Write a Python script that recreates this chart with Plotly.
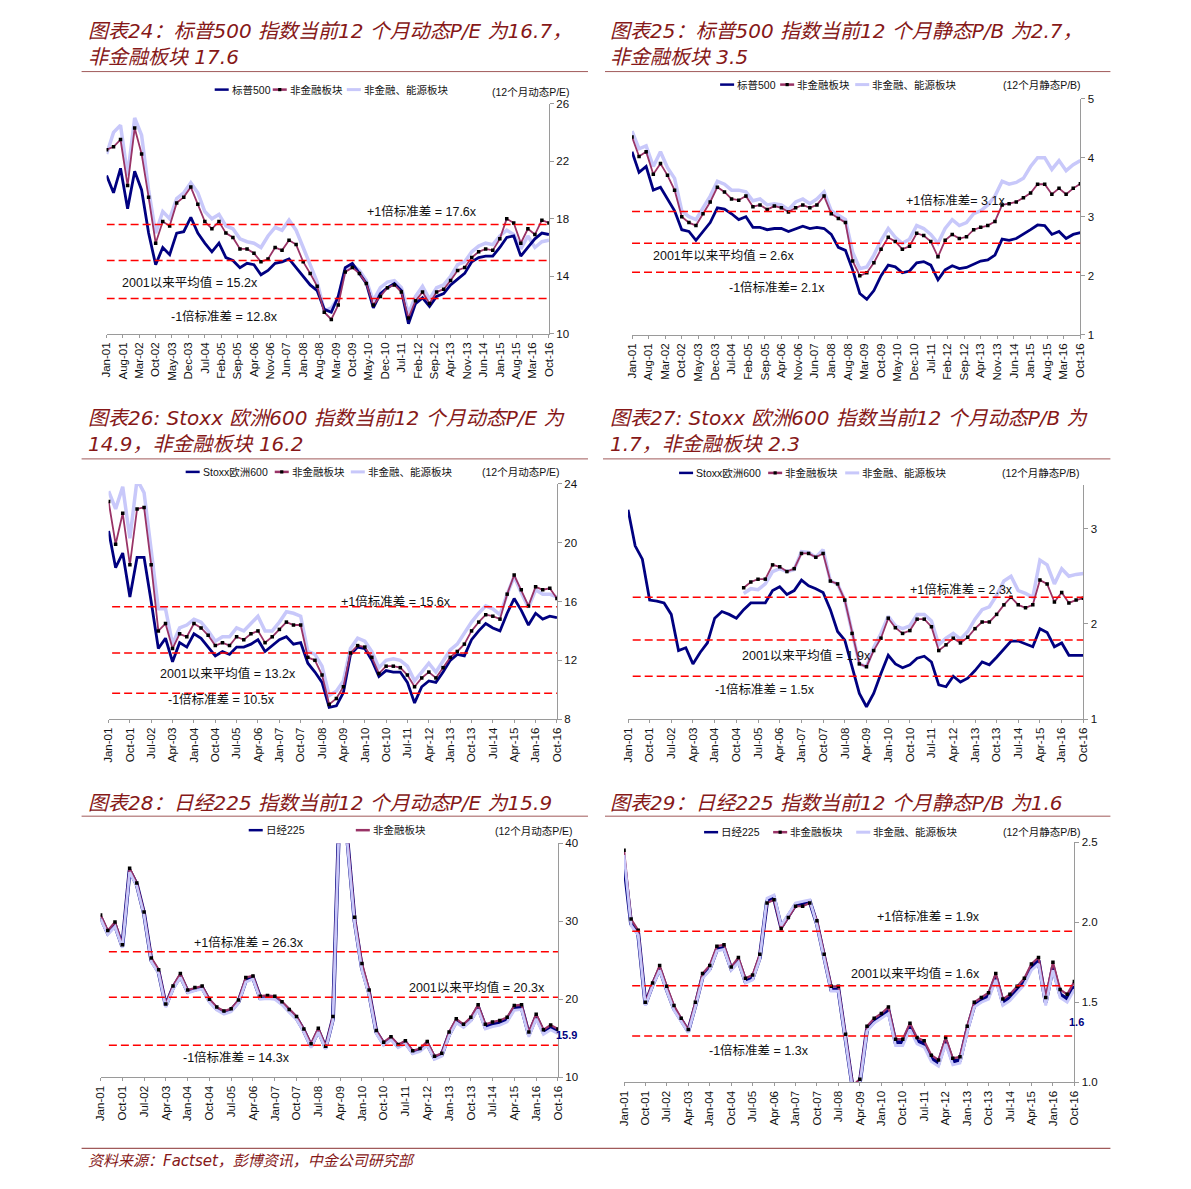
import pandas as pd
import plotly.graph_objects as go

# page is 1191x1189; the html body has an 8px margin, so the figure is sized to fit inside it.
# The captured page comes out scaled by ~0.989 about its centre; positions are pre-compensated.
OFF = 8
W, H = 1175, 1173
S = 0.989
def px(x): return (595.5 + (x - 595.5) / S - OFF) / W
def py(y): return 1 - (594.5 + (y - 594.5) / S - OFF) / H

START, END = "2001-01-01", "2016-10-01"
dates = pd.date_range(START, periods=64, freq="3MS")

# ---------------- data (quarterly readings) ----------------
# 图表24 S&P500 12m forward P/E
N1 = [21.0,19.8,21.5,18.7,21.3,20.0,17.0,14.8,16.0,15.5,
      17.0,17.1,18.1,17.0,16.3,15.7,16.3,15.3,15.1,14.6,
      14.9,14.8,14.1,14.4,14.9,15.0,15.2,14.6,14.0,13.4,
      13.0,11.7,11.5,12.6,14.6,14.9,14.2,13.5,11.8,12.8,
      13.2,13.5,13.0,10.7,12.1,12.5,11.9,12.6,12.8,13.4,
      13.8,14.2,15.0,15.3,15.4,15.4,16.0,16.7,16.8,15.4,
      16.0,16.6,17.0,16.9]
M1 = [22.8,23.0,23.5,20.3,24.3,22.5,19.5,16.3,17.8,17.5,
      19.1,19.5,20.2,19.0,17.8,17.3,17.8,17.0,16.7,15.9,
      15.9,15.6,15.0,15.2,16.0,15.8,16.5,16.2,15.0,14.2,
      13.3,11.5,11.0,12.0,14.3,14.6,14.2,13.5,12.0,12.6,
      13.2,13.4,12.9,11.1,12.3,12.9,12.1,12.9,13.1,13.7,
      14.4,14.6,15.3,15.7,15.9,15.8,16.6,18.0,17.7,16.3,
      17.3,16.9,17.9,17.7]
L1 = [22.5,24.0,24.5,21.0,25.0,23.8,20.0,17.0,18.5,18.0,
      19.4,19.8,20.5,19.8,18.5,18.0,18.3,17.5,17.3,16.6,
      16.4,16.3,16.0,16.8,17.4,17.2,17.9,17.2,16.0,14.8,
      13.6,11.6,11.8,12.5,14.4,14.8,14.4,13.7,12.3,13.2,
      13.6,13.7,13.2,11.4,12.6,13.3,12.4,13.2,13.4,14.0,
      14.8,15.0,15.7,16.1,16.3,16.2,16.8,17.2,16.9,15.9,
      16.8,16.0,16.4,16.5]
LV1 = [17.6, 15.1, 12.45]

# 图表25 S&P500 trailing P/B
N2 = [4.1,3.75,3.85,3.45,3.5,3.3,3.1,2.78,2.75,2.6,
      2.75,2.9,3.15,3.13,3.05,2.95,3.0,2.82,2.82,2.78,
      2.8,2.8,2.75,2.8,2.84,2.8,2.82,2.8,2.7,2.48,
      2.43,2.1,1.7,1.6,1.75,2.0,2.18,2.15,2.05,2.08,
      2.22,2.24,2.18,1.93,2.1,2.17,2.12,2.14,2.2,2.25,
      2.27,2.35,2.62,2.6,2.63,2.7,2.78,2.86,2.85,2.7,
      2.75,2.63,2.7,2.73]
M2 = [4.35,4.02,4.1,3.72,3.9,3.7,3.45,3.0,2.9,2.85,
      3.05,3.25,3.5,3.42,3.3,3.28,3.35,3.17,3.2,3.12,
      3.18,3.15,3.08,3.15,3.2,3.15,3.2,3.35,3.05,2.97,
      2.9,2.25,2.0,2.05,2.22,2.45,2.65,2.58,2.45,2.5,
      2.72,2.68,2.58,2.32,2.6,2.7,2.63,2.66,2.78,2.82,
      2.85,2.92,3.2,3.22,3.25,3.32,3.4,3.55,3.55,3.38,
      3.48,3.38,3.48,3.56]
L2 = [4.45,4.15,4.2,3.85,4.1,3.83,3.65,3.1,3.0,2.95,
      3.15,3.35,3.6,3.55,3.45,3.45,3.42,3.27,3.3,3.2,
      3.22,3.2,3.12,3.25,3.3,3.22,3.3,3.42,3.1,3.02,
      2.95,2.4,2.12,2.15,2.35,2.6,2.8,2.65,2.55,2.62,
      2.85,2.8,2.7,2.55,2.8,2.95,2.85,2.9,3.05,3.1,
      3.2,3.35,3.6,3.55,3.58,3.65,3.85,4.0,4.0,3.8,
      3.95,3.78,3.88,3.95]
LV2 = [3.09, 2.55, 2.06]

# 图表26 Stoxx600 12m forward P/E
N3 = [20.8,18.3,19.3,16.3,19.0,19.0,16.0,12.8,13.5,11.9,
      13.2,12.9,13.8,13.5,12.9,12.3,12.6,12.4,12.9,12.9,
      13.1,13.4,12.6,13.0,13.4,13.6,13.1,13.2,11.8,11.2,
      10.5,8.8,8.9,9.8,12.4,12.9,12.8,12.0,10.9,11.3,
      11.2,11.2,10.5,9.1,10.2,10.6,10.5,11.2,12.0,12.4,
      12.3,13.4,14.0,14.5,14.2,14.0,15.2,16.2,15.4,14.4,
      15.2,14.8,15.0,14.9]
M3 = [22.8,19.9,22.0,18.5,22.3,22.4,18.5,14.0,14.5,12.8,
      13.8,13.6,14.5,14.2,13.7,13.0,13.2,13.0,13.6,13.4,
      13.8,14.0,13.2,13.6,14.1,14.6,14.4,14.4,12.2,12.0,
      11.0,9.0,9.4,10.2,12.5,13.0,12.9,12.2,11.1,11.6,
      11.6,11.5,11.0,10.2,10.8,11.2,10.8,11.5,12.2,12.6,
      13.1,14.0,14.6,15.1,15.0,14.8,16.5,17.8,16.8,15.7,
      17.0,16.8,16.9,16.2]
L3 = [23.5,22.3,23.8,20.3,24.3,23.4,19.5,15.5,15.5,13.1,
      14.2,14.4,14.8,14.6,14.0,13.3,13.6,13.6,14.2,14.0,
      14.5,15.0,14.0,14.0,14.6,15.3,15.2,15.0,12.6,12.4,
      11.6,9.6,9.9,10.6,12.8,13.5,13.3,12.6,11.5,12.0,
      12.1,12.0,11.6,10.6,11.2,11.8,11.2,12.0,12.7,13.1,
      13.8,14.6,15.2,15.7,15.5,15.1,16.5,17.7,16.6,15.6,
      16.8,16.5,16.5,16.3]
LV3 = [15.64, 12.5, 9.75]

# 图表27 Stoxx600 P/B
N4 = [3.2,2.82,2.68,2.25,2.24,2.22,2.1,1.72,1.75,1.58,
      1.7,1.8,2.06,2.13,2.1,2.06,2.15,2.22,2.22,2.22,
      2.35,2.39,2.31,2.35,2.46,2.4,2.37,2.33,2.15,1.92,
      1.83,1.55,1.27,1.13,1.27,1.48,1.67,1.58,1.54,1.57,
      1.64,1.66,1.6,1.36,1.34,1.45,1.39,1.43,1.51,1.6,
      1.57,1.65,1.74,1.82,1.82,1.79,1.76,1.95,1.91,1.76,
      1.8,1.67,1.67,1.67]
M4 = [None]*16 + [2.38,2.44,2.47,2.47,
      2.62,2.6,2.55,2.58,2.74,2.74,2.7,2.74,2.45,2.42,
      2.25,1.9,1.58,1.55,1.72,1.85,2.06,1.96,1.9,1.93,
      2.05,2.05,1.97,1.72,1.78,1.85,1.8,1.86,1.95,2.02,
      2.02,2.1,2.2,2.28,2.2,2.17,2.2,2.46,2.42,2.23,
      2.33,2.22,2.25,2.27]
L4 = [None]*16 + [2.32,2.37,2.36,2.42,
      2.55,2.58,2.55,2.57,2.76,2.75,2.7,2.78,2.45,2.42,
      2.25,1.9,1.58,1.55,1.75,1.9,2.08,1.98,1.95,1.98,
      2.1,2.1,2.03,1.78,1.85,1.9,1.84,1.92,2.05,2.15,
      2.18,2.3,2.45,2.5,2.35,2.32,2.28,2.67,2.62,2.42,
      2.58,2.5,2.52,2.53]
LV4 = [2.28, 1.83, 1.45]

# 图表28 Nikkei225 12m forward P/E
N5 = [30.5,28.5,29.5,26.8,36.5,34.7,31.0,25.0,23.5,19.2,
      21.5,23.0,21.0,21.3,21.5,19.8,18.8,18.3,18.6,19.7,
      22.4,22.8,20.2,20.3,20.2,19.5,18.5,17.6,16.0,14.0,
      16.0,13.8,17.5,47.0,40.5,30.0,24.0,20.8,15.8,14.3,
      15.0,14.0,14.5,13.2,13.5,14.3,12.5,12.9,15.5,17.2,
      16.6,17.4,19.0,16.5,16.8,17.0,17.4,18.9,19.0,15.5,
      17.8,15.8,16.4,15.9]
M5 = [30.8,28.8,29.9,27.0,36.8,34.9,31.2,25.3,23.8,19.4,
      21.7,23.3,21.2,21.5,21.7,20.0,19.0,18.5,18.8,19.9,
      22.8,23.0,20.4,20.5,20.4,19.7,18.7,17.8,16.2,14.3,
      16.3,14.0,17.8,47.5,41.0,30.5,24.6,21.2,16.0,14.5,
      15.2,14.2,14.7,13.4,13.7,14.6,12.7,13.1,15.8,17.5,
      16.8,17.7,19.3,16.8,17.1,17.3,17.7,19.2,19.3,15.8,
      18.1,16.1,16.7,16.2]
L5 = [30.3,28.3,29.3,26.6,36.3,34.5,30.8,24.8,23.3,19.0,
      21.3,22.8,20.8,21.1,21.3,19.6,18.6,18.1,18.4,19.5,
      22.2,22.6,20.0,20.1,20.0,19.3,18.3,17.4,15.8,13.8,
      15.8,13.6,17.3,46.5,40.0,29.7,23.7,20.5,15.6,14.1,
      14.8,13.8,14.3,13.0,13.3,14.1,12.3,12.7,15.3,17.0,
      16.4,17.2,18.7,16.2,16.5,16.7,17.1,18.6,18.7,15.2,
      17.5,15.5,16.1,15.6]
LV5 = [26.1, 20.26, 14.1]

# 图表29 Nikkei225 P/B
N6 = [2.37,1.99,1.93,1.49,1.61,1.71,1.58,1.46,1.39,1.32,
      1.48,1.66,1.71,1.83,1.84,1.71,1.76,1.63,1.65,1.78,
      2.13,2.15,1.97,2.04,2.11,2.11,2.13,1.99,1.78,1.58,
      1.58,1.28,0.96,1.0,1.33,1.38,1.41,1.45,1.25,1.25,
      1.35,1.26,1.24,1.15,1.12,1.26,1.13,1.14,1.33,1.48,
      1.51,1.54,1.66,1.5,1.53,1.58,1.63,1.72,1.76,1.5,
      1.72,1.55,1.52,1.6]
M6 = [2.45,2.02,1.95,1.5,1.62,1.73,1.6,1.48,1.4,1.33,
      1.5,1.68,1.73,1.85,1.86,1.72,1.78,1.65,1.67,1.8,
      2.12,2.14,1.96,2.03,2.1,2.1,2.12,2.01,1.8,1.6,
      1.6,1.3,0.98,1.02,1.35,1.4,1.43,1.47,1.27,1.27,
      1.37,1.28,1.26,1.17,1.14,1.28,1.15,1.16,1.35,1.5,
      1.53,1.56,1.68,1.52,1.55,1.6,1.65,1.74,1.78,1.53,
      1.75,1.58,1.55,1.63]
L6 = [2.42,1.98,1.92,1.48,1.6,1.7,1.57,1.45,1.38,1.31,
      1.47,1.65,1.7,1.82,1.83,1.7,1.75,1.62,1.64,1.77,
      2.15,2.17,1.98,2.05,2.12,2.13,2.14,1.98,1.77,1.57,
      1.57,1.27,0.95,0.99,1.32,1.37,1.4,1.43,1.23,1.23,
      1.33,1.24,1.22,1.13,1.1,1.24,1.11,1.12,1.31,1.47,
      1.5,1.52,1.64,1.48,1.51,1.56,1.61,1.7,1.74,1.48,
      1.7,1.53,1.5,1.58]
LV6 = [1.944, 1.604, 1.29]

TITLES = [
    ["图表24：标普500 指数当前12 个月动态P/E 为16.7，", "非金融板块 17.6"],
    ["图表25：标普500 指数当前12 个月静态P/B 为2.7，", "非金融板块 3.5"],
    ["图表26: Stoxx 欧洲600 指数当前12 个月动态P/E 为", "14.9，非金融板块 16.2"],
    ["图表27: Stoxx 欧洲600 指数当前12 个月动态P/B 为", "1.7，非金融板块 2.3"],
    ["图表28：日经225 指数当前12 个月动态P/E 为15.9"],
    ["图表29：日经225 指数当前12 个月静态P/B 为1.6"],
]
LEVEL_TEXT = [
    ["+1倍标准差 = 17.6x", "2001以来平均值 = 15.2x", "-1倍标准差 = 12.8x"],
    ["+1倍标准差= 3.1x", "2001年以来平均值 = 2.6x", "-1倍标准差= 2.1x"],
    ["+1倍标准差 = 15.6x", "2001以来平均值 = 13.2x", "-1倍标准差 = 10.5x"],
    ["+1倍标准差 = 2.3x", "2001以来平均值 = 1.9x", "-1倍标准差 = 1.5x"],
    ["+1倍标准差 = 26.3x", "2001以来平均值 = 20.3x", "-1倍标准差 = 14.3x"],
    ["+1倍标准差 = 1.9x", "2001以来平均值 = 1.6x", "-1倍标准差 = 1.3x"],
]
NAMES = [
    ["标普500", "非金融板块", "非金融、能源板块"],
    ["标普500", "非金融板块", "非金融、能源板块"],
    ["Stoxx欧洲600", "非金融板块", "非金融、能源板块"],
    ["Stoxx欧洲600", "非金融板块", "非金融、能源板块"],
    ["日经225", "非金融板块", None],
    ["日经225", "非金融板块", "非金融、能源板块"],
]
UNITS = ["(12个月动态P/E)", "(12个月静态P/B)", "(12个月动态P/E)",
         "(12个月静态P/B)", "(12个月动态P/E)", "(12个月静态P/B)"]

# ---------------- styles / layout geometry ----------------
FONT = "Liberation Sans, Arial, Noto Sans CJK SC, sans-serif"
TFONT = "DejaVu Sans, Verdana, Noto Sans CJK SC, sans-serif"
NAVY, MAROON, LAV, RED = "#000080", "#993366", "#C8C8FA", "#FF0000"
TCOL, RULE = "#861818", "#A05A5A"

panels = [
    dict(box=(107, 104, 549, 334), yr=[10, 26], yt=[10, 14, 18, 22, 26], dt="M7",
         s=(N1, M1, L1), lv=LV1, lvx="2001-01-01", front=False,
         title_x=86, title_y=[31, 57], rule=(82, 588, 72),
         lab=[(422, 212), (190, 283), (225, 317)],
         unit=(572, 92), leg_y=90, leg=[(215, 229), (273, 287), (347, 361)]),
    dict(box=(632, 99, 1080, 335), yr=[1, 5], yt=[1, 2, 3, 4, 5], dt="M7",
         s=(N2, M2, L2), lv=LV2, lvx="2001-01-01", front=False,
         title_x=608, title_y=[31, 57], rule=(605, 1110, 72),
         lab=[(955, 201), (723, 256), (777, 288)],
         unit=(1083, 85), leg_y=85, leg=[(720, 734), (780, 794), (855, 869)]),
    dict(box=(109, 484, 557, 719), yr=[8, 24], yt=[8, 12, 16, 20, 24], dt="M9",
         s=(N3, M3, L3), lv=LV3, lvx="2001-02-15", front=False,
         title_x=86, title_y=[418, 444], rule=(82, 588, 459),
         lab=[(396, 601), (228, 673), (222, 699)],
         unit=(562, 472), leg_y=472, leg=[(186, 200), (275, 289), (351, 365)]),
    dict(box=(628, 485, 1083, 719), yr=[1, 3.46], yt=[1, 2, 3], dt="M9",
         s=(N4, M4, L4), lv=LV4, lvx="2001-03-01", front=False,
         title_x=608, title_y=[418, 444], rule=(603, 1110, 459),
         lab=[(961, 590), (806, 655), (765, 689)],
         unit=(1082, 473), leg_y=473, leg=[(679, 693), (768, 782), (845, 859)]),
    dict(box=(101, 843, 558, 1077), yr=[10, 40], yt=[10, 20, 30, 40], dt="M9",
         s=(N5, M5, L5), lv=LV5, lvx="2001-04-15", front=True,
         title_x=86, title_y=[803], rule=(82, 588, 816),
         lab=[(249, 942), (477, 987), (237, 1057)],
         unit=(575, 831), leg_y=830, leg=[(249, 263), (356, 370), None],
         last=("15.9", 567, 1035)),
    dict(box=(624, 842, 1074, 1082), yr=[1.0, 2.5], yt=[1.0, 1.5, 2.0, 2.5], dt="M9",
         s=(N6, M6, L6), lv=LV6, lvx="2001-04-15", front=True,
         title_x=608, title_y=[803], rule=(605, 1110, 816),
         lab=[(928, 916), (915, 973), (759, 1050)],
         unit=(1083, 832), leg_y=832, leg=[(704, 718), (773, 787), (856, 870)],
         last=("1.6", 1076, 1022), tfmt=".1f"),
]

fig = go.Figure()
shapes, annos = [], []

for i, p in enumerate(panels):
    n = i + 1
    sfx = "" if n == 1 else str(n)
    xr, yr_ = "x" + sfx, "y" + sfx
    x0, y0, x1, y1 = p["box"]
    fig.update_layout({
        "xaxis" + sfx: dict(domain=[px(x0), px(x1)], anchor=yr_, type="date",
                            range=[START, END], tick0=START, dtick=p["dt"],
                            tickformat="%b-%y", tickangle=-90, showgrid=False,
                            zeroline=False, showline=True, linecolor="#9A9A9A",
                            linewidth=1, ticks="outside", ticklen=3, tickcolor="#9A9A9A",
                            tickfont=dict(family=FONT, size=11.5, color="#111111")),
        "yaxis" + sfx: dict(domain=[py(y1), py(y0)], anchor=xr, side="right",
                            range=p["yr"], tickvals=p["yt"], tickformat=p.get("tfmt", ""),
                            showgrid=False, zeroline=False, showline=True,
                            linecolor="#9A9A9A", linewidth=1, ticks="outside", ticklen=4,
                            tickcolor="#9A9A9A",
                            tickfont=dict(family=FONT, size=11.5, color="#111111")),
    })
    nav, mar, lav = p["s"]
    names = NAMES[i]
    if not p["front"]:
        fig.add_trace(go.Scatter(x=dates, y=lav, mode="lines", name=names[2],
                                 line=dict(color=LAV, width=3.5), xaxis=xr, yaxis=yr_,
                                 showlegend=False, connectgaps=False))
        fig.add_trace(go.Scatter(x=dates, y=nav, mode="lines", name=names[0],
                                 line=dict(color=NAVY, width=2.8), xaxis=xr, yaxis=yr_,
                                 showlegend=False))
        fig.add_trace(go.Scatter(x=dates, y=mar, mode="lines+markers", name=names[1],
                                 line=dict(color=MAROON, width=1.8),
                                 marker=dict(color="black", size=3.5, symbol="square"),
                                 xaxis=xr, yaxis=yr_, showlegend=False, connectgaps=False))
    else:
        fig.add_trace(go.Scatter(x=dates, y=nav, mode="lines", name=names[0],
                                 line=dict(color=NAVY, width=4), xaxis=xr, yaxis=yr_,
                                 showlegend=False))
        fig.add_trace(go.Scatter(x=dates, y=mar, mode="lines", name=names[1],
                                 line=dict(color=MAROON, width=2.2), xaxis=xr, yaxis=yr_,
                                 showlegend=False))
        fig.add_trace(go.Scatter(x=dates, y=lav, mode="lines", name="非金融、能源板块",
                                 line=dict(color=LAV, width=2.8), xaxis=xr, yaxis=yr_,
                                 showlegend=False))
        fig.add_trace(go.Scatter(x=dates, y=mar, mode="markers", name=names[1],
                                 marker=dict(color="black", size=3.5, symbol="square"),
                                 xaxis=xr, yaxis=yr_, showlegend=False))

    # standard deviation / mean lines
    for lvl, txt, (lx, ly) in zip(p["lv"], LEVEL_TEXT[i], p["lab"]):
        shapes.append(dict(type="line", xref=xr, yref=yr_, x0=p["lvx"], x1=END,
                           y0=lvl, y1=lvl, line=dict(color=RED, width=1.5, dash="8px,4px"),
                           layer="above"))
        annos.append(dict(x=px(lx), y=py(ly), xref="paper", yref="paper", text=txt,
                          showarrow=False, xanchor="center", yanchor="middle",
                          font=dict(family=FONT, size=12.5, color="#111111")))

    # titles
    for t, ty in zip(TITLES[i], p["title_y"]):
        annos.append(dict(x=px(p["title_x"]), y=py(ty), xref="paper", yref="paper",
                          text="<i>" + t + "</i>", showarrow=False, xanchor="left",
                          yanchor="middle", font=dict(family=TFONT, size=20, color=TCOL)))
    rx0, rx1, ry = p["rule"]
    shapes.append(dict(type="line", xref="paper", yref="paper", x0=px(rx0), x1=px(rx1),
                       y0=py(ry), y1=py(ry), line=dict(color=RULE, width=1)))

    # unit label
    ux, uy = p["unit"]
    annos.append(dict(x=px(ux), y=py(uy), xref="paper", yref="paper", text=UNITS[i],
                      showarrow=False, xanchor="right", yanchor="middle",
                      font=dict(family=FONT, size=10.5, color="#111111")))

    # legend
    cols = [(NAVY, 2.5), (MAROON, 2.5), (LAV, 3)]
    for k, seg in enumerate(p["leg"]):
        if seg is None or names[k] is None:
            continue
        a, b = seg
        ly = p["leg_y"]
        shapes.append(dict(type="line", xref="paper", yref="paper", x0=px(a), x1=px(b),
                           y0=py(ly), y1=py(ly), line=dict(color=cols[k][0], width=cols[k][1])))
        if k == 1 and (not p["front"] or n == 6):
            m = (a + b) / 2
            shapes.append(dict(type="rect", xref="paper", yref="paper",
                               x0=px(m - 1.6), x1=px(m + 1.6), y0=py(ly + 1.6), y1=py(ly - 1.6),
                               fillcolor="black", line=dict(width=0)))
        annos.append(dict(x=px(b + 1), y=py(ly), xref="paper", yref="paper", text=names[k],
                          showarrow=False, xanchor="left", yanchor="middle",
                          font=dict(family=FONT, size=10.5, color="#111111")))

    if "last" in p:
        t, lx, ly = p["last"]
        annos.append(dict(x=px(lx), y=py(ly), xref="paper", yref="paper",
                          text="<b>" + t + "</b>", showarrow=False, xanchor="center",
                          yanchor="middle", font=dict(family=FONT, size=11, color=NAVY)))

# footer
shapes.append(dict(type="line", xref="paper", yref="paper", x0=px(82), x1=px(1110),
                   y0=py(1148), y1=py(1148), line=dict(color=RULE, width=1.2)))
annos.append(dict(x=px(86), y=py(1161), xref="paper", yref="paper",
                  text="<i>资料来源：Factset，彭博资讯，中金公司研究部</i>", showarrow=False,
                  xanchor="left", yanchor="middle",
                  font=dict(family=TFONT, size=15, color=TCOL)))

fig.update_layout(width=W, height=H, margin=dict(l=0, r=0, t=0, b=0),
                  paper_bgcolor="white", plot_bgcolor="white", showlegend=False,
                  shapes=shapes, annotations=annos, font=dict(family=FONT))
fig.write_html("out.html")
